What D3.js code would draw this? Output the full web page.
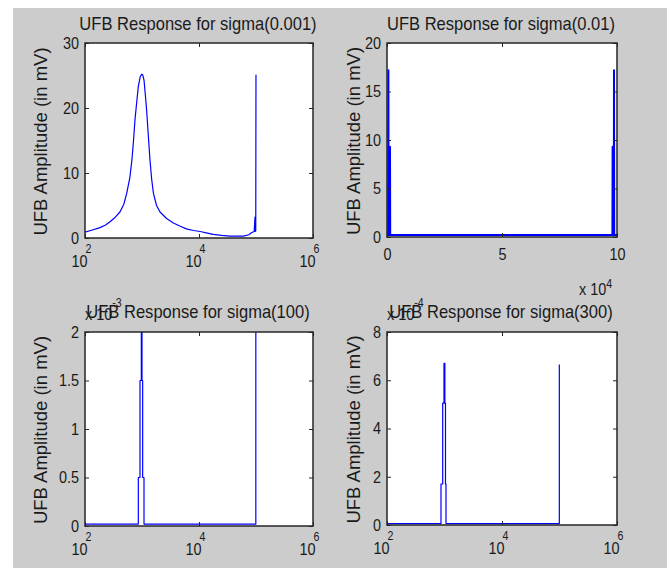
<!DOCTYPE html>
<html>
<head>
<meta charset="utf-8">
<title>UFB Response</title>
<script src="https://cdn.jsdelivr.net/npm/d3@7"></script>
<style>
  body { margin: 0; background: #fff; }
  text { font-family: Arial, "Liberation Sans", sans-serif; fill: #1a1a1a; }
</style>
</head>
<body>
<div id="fig"></div>
<script>
// sigma(0.001) - frequency (Hz), amplitude (mV)
var freq1 = [100,130,183,230,275,340,410,480,540,610,665,710,753,810,861,930,986,1030,1084,1140,1205,1290,1380,1480,1585,1800,2070,2700,3550,4700,6000,8000,10500,14000,17800,25000,34700,50000,60000,75000,83000,93000,96000,97000,99000,99900];
var amp1  = [0.9,1.2,1.6,2.0,2.5,3.2,4.0,5.2,6.9,9.2,12,15,18.2,21,23.3,24.8,25.2,25.1,24.3,22.2,19.7,15.8,12,9.0,6.9,5.0,4.0,3.0,2.3,1.8,1.4,1.15,1.0,0.75,0.55,0.4,0.3,0.3,0.3,0.5,0.8,1.0,3.2,1.0,1.1,25.1];

// sigma(0.01) - linear frequency
var freq2 = [0,500,600,700,1200,1300,1400,50000,98000,98100,98200,98600,98700,98800,100000];
var amp2  = [0.2,0.2,17.2,0.2,0.2,9.3,0.2,0.2,0.2,9.3,0.2,0.2,17.2,0.2,0.2];

// sigma(100) - amplitude in units of 1e-3
var freq3 = [100,862,862,922,922,973,973,1000,1000,1027,1027,1084,1084,99300,99300];
var amp3  = [0.02,0.02,0.5,0.5,1.5,1.5,2,2,1.5,1.5,0.5,0.5,0.02,0.02,2];

// sigma(300) - amplitude in units of 1e-4
var freq4 = [100,869,869,930,930,980,980,1015,1015,1040,1040,1062,1062,99300,99300];
var amp4  = [0.06,0.06,1.7,1.7,5.05,5.05,6.7,6.7,5.05,5.05,1.7,1.7,0.06,0.06,6.65];

var titles = ["UFB Response for sigma(0.001)", "UFB Response for sigma(0.01)",
              "UFB Response for sigma(100)", "UFB Response for sigma(300)"];
var yLabel = "UFB Amplitude (in mV)";
var yTicks1 = [0,10,20,30];
var yTicks2 = [0,5,10,15,20];
var yTicks3 = [0,0.5,1,1.5,2];
var yTicks4 = [0,2,4,6,8];
var xTicksLog = [1e2,1e4,1e6];
var xTicksLin = [0,5e4,1e5];
var yExp3 = "-3", yExp4 = "-4", xExp2 = "4";

var W = 671, H = 571;
var svg = d3.select("#fig").append("svg").attr("width", W).attr("height", H);
svg.append("rect").attr("x", 13).attr("y", 8).attr("width", 654).attr("height", 560).attr("fill", "#cccccc");

var NARROW = 0.85;

var panels = [
  {f: freq1, a: amp1, log: true,  ymax: 30, yt: yTicks1, title: titles[0], box: [85, 43, 313, 238], lw: 1.2},
  {f: freq2, a: amp2, log: false, ymax: 20, yt: yTicks2, title: titles[1], box: [387, 43, 617, 237], lw: 2},
  {f: freq3, a: amp3, log: true,  ymax: 2,  yt: yTicks3, title: titles[2], box: [85, 332, 313, 526], lw: 1.2, yexp: yExp3},
  {f: freq4, a: amp4, log: true,  ymax: 8,  yt: yTicks4, title: titles[3], box: [387, 332, 617, 525], lw: 1.2, yexp: yExp4}
];

panels.forEach(function(p, i) {
  var left = p.box[0], top = p.box[1], w = p.box[2] - p.box[0], h = p.box[3] - p.box[1];
  var g = svg.append("g").attr("transform", "translate(" + left + "," + top + ")");

  var x = p.log ? d3.scaleLog().domain([1e2, 1e6]).range([0, w])
                : d3.scaleLinear().domain([0, 1e5]).range([0, w]);
  var y = d3.scaleLinear().domain([0, p.ymax]).range([h, 0]);

  g.append("rect").attr("width", w).attr("height", h).attr("fill", "#fff");

  g.append("clipPath").attr("id", "clip" + i)
    .append("rect").attr("width", w).attr("height", h);

  var pts = p.f.map(function(d, k) { return [d, p.a[k]]; });
  var line = d3.line().x(function(d) { return x(d[0]); }).y(function(d) { return y(d[1]); });
  g.append("path").datum(pts)
    .attr("clip-path", "url(#clip" + i + ")")
    .attr("d", line)
    .attr("fill", "none")
    .attr("stroke", "#0000ff")
    .attr("stroke-width", p.lw)
    .attr("stroke-linejoin", "round");

  // axes, ticks pointing inward on all four sides
  var xt = p.log ? xTicksLog : xTicksLin;
  var bottom = g.append("g").attr("transform", "translate(0," + h + ")")
    .call(d3.axisBottom(x).tickValues(xt).tickSize(-4).tickSizeOuter(0)
      .tickPadding(11)
      .tickFormat(function(d) { return p.log ? "10" : String(d / 1e4); }));
  g.append("g").call(d3.axisTop(x).tickValues(xt).tickSize(-4).tickSizeOuter(0).tickFormat(""));
  var leftAx = g.append("g")
    .call(d3.axisLeft(y).tickValues(p.yt).tickSize(-4).tickSizeOuter(0).tickPadding(6)
      .tickFormat(function(d) { return String(d); }));
  g.append("g").attr("transform", "translate(" + w + ",0)")
    .call(d3.axisRight(y).tickValues(p.yt).tickSize(-4).tickSizeOuter(0).tickFormat(""));

  g.selectAll(".domain").remove();
  g.selectAll(".tick line").attr("stroke", "#262626");
  g.selectAll(".tick text").attr("font-size", 17).attr("fill", "#1a1a1a")
    .style("font-family", "Arial, 'Liberation Sans', sans-serif");

  leftAx.selectAll(".tick text")
    .attr("x", -6 / NARROW)
    .attr("transform", "scale(" + NARROW + ",1)");

  if (p.log) {
    bottom.selectAll(".tick text")
      .attr("text-anchor", "end")
      .attr("x", 2 / NARROW).attr("y", 29).attr("dy", 0)
      .attr("transform", "scale(" + NARROW + ",1)");
    bottom.selectAll(".tick").append("text")
      .attr("x", 3 / NARROW).attr("y", 15)
      .attr("font-size", 12.5)
      .attr("transform", "scale(" + NARROW + ",1)")
      .text(function(d) { return String(Math.round(Math.log10(d))); });
  } else {
    bottom.selectAll(".tick text").attr("transform", "scale(" + NARROW + ",1)");
    // x 10^4 multiplier
    var m = g.append("g").attr("transform", "translate(" + (w - 38) + "," + (h + 58) + ") scale(" + NARROW + ",1)");
    m.append("text").attr("font-size", 17).text("x 10");
    m.append("text").attr("x", 32).attr("y", -7).attr("font-size", 12.5).text(xExp2);
  }

  // y multiplier for small amplitudes
  if (p.yexp) {
    var my = g.append("g").attr("transform", "translate(0,-12) scale(" + NARROW + ",1)");
    my.append("text").attr("font-size", 17).text("x 10");
    my.append("text").attr("x", 32).attr("y", -13).attr("font-size", 12.5).text(p.yexp);
  }

  // frame
  g.append("rect").attr("width", w).attr("height", h)
    .attr("fill", "none").attr("stroke", "#262626").attr("stroke-width", 1.5);

  // title
  g.append("text")
    .attr("transform", "translate(" + (w / 2 - 1) + "," + (i < 2 ? -13 : -14) + ") scale(0.92,1)")
    .attr("text-anchor", "middle")
    .attr("font-size", 18)
    .text(p.title);

  // y label
  g.append("text")
    .attr("transform", "translate(" + (i % 2 === 0 ? -38 : -27) + "," + (h / 2 + 1) + ") rotate(-90)")
    .attr("text-anchor", "middle")
    .attr("font-size", 18.5)
    .text(yLabel);
});
</script>
</body>
</html>
